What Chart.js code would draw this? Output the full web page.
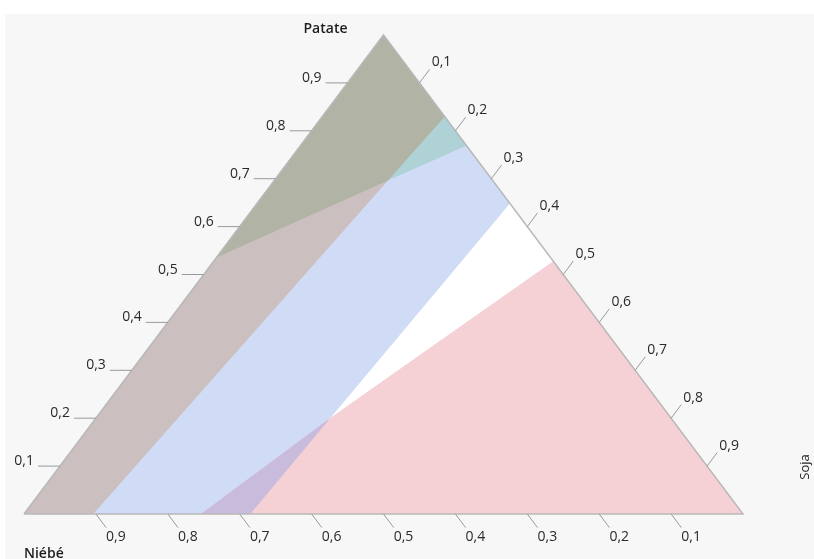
<!DOCTYPE html>
<html>
<head>
<meta charset="utf-8">
<script src="https://cdn.jsdelivr.net/npm/chart.js@4.4.1/dist/chart.umd.min.js"></script>
<style>
  html, body { margin: 0; padding: 0; background: #fff; }
  #wrap { position: relative; width: 814px; height: 559px; }
</style>
</head>
<body>
<div id="wrap"><canvas id="ternary"></canvas></div>
<script>
// ---------------------------------------------------------
// DATA  (points are [Patate, Soja], Niébé = 1 - Patate - Soja)
// ---------------------------------------------------------
const cornerNames = ['Patate', 'Niébé', 'Soja'];
const tickValues = [0.1, 0.2, 0.3, 0.4, 0.5, 0.6, 0.7, 0.8, 0.9];
const tickLabels = ['0,1', '0,2', '0,3', '0,4', '0,5', '0,6', '0,7', '0,8', '0,9'];

// whole simplex (feasible area shows white)
const zoneWhite  = [[0, 0], [0, 1], [1, 0]];
// shaded zones
const zoneRose   = [[0, 0], [0, 0.097], [0.699, 0.159], [0.829, 0.171], [1, 0]];
const zoneBlue   = [[0, 0.097], [0, 0.314], [0.196, 0.325], [0.649, 0.351], [0.829, 0.171], [0.699, 0.159]];
const zonePink   = [[0, 0.247], [0, 1], [0.527, 0.473], [0.273, 0.359], [0.196, 0.325]];
const zonePurple = [[0, 0.247], [0, 0.314], [0.196, 0.325]];
const zoneGreen  = [[0.537, 0], [0.699, 0.159], [0.829, 0.171], [1, 0]];
const zoneTeal   = [[0.699, 0.159], [0.770, 0.230], [0.829, 0.171]];

const zones = [zoneWhite, zoneRose, zoneBlue, zonePink, zonePurple, zoneGreen, zoneTeal];
const zoneColors = ['#ffffff', '#cbbfbf', '#d0dbf5', '#f5d1d6', '#c9bbdc', '#b1b4a5', '#aed2d6'];

// ternary -> plane (x along base, y = Patate height)
function toXY(p) {
    return { x: p[1] + p[0] / 2, y: p[0] };
}

const datasets = zones.map((z, i) => {
    const pts = z.map(toXY);
    pts.push(pts[0]);
    return {
        data: pts,
        fill: 'shape',
        backgroundColor: zoneColors[i],
        borderColor: zoneColors[i],
        borderWidth: 1,
        pointRadius: 0,
        tension: 0,
        order: zones.length - i
    };
});

// ---------------------------------------------------------
// AXES PLUGIN (triangle, ticks, labels)
// ---------------------------------------------------------
const ternaryAxes = {
    id: 'ternaryAxes',
    beforeDraw(chart) {
        const c = chart.ctx;
        c.save();
        c.fillStyle = '#f7f7f7';
        c.fillRect(5, 14, chart.width - 5, chart.height - 14);
        c.restore();
    },
    afterDatasetsDraw(chart) {
        const c = chart.ctx;
        const sx = chart.scales.x, sy = chart.scales.y;
        const px = (p) => {
            const q = toXY(p);
            return [sx.getPixelForValue(q.x), sy.getPixelForValue(q.y)];
        };
        const top = px([1, 0]), bl = px([0, 0]), br = px([0, 1]);

        c.save();
        // triangle edges
        c.strokeStyle = '#b9b9b9';
        c.lineWidth = 1.5;
        c.beginPath();
        c.moveTo(bl[0], bl[1]);
        c.lineTo(br[0], br[1]);
        c.lineTo(top[0], top[1]);
        c.lineTo(bl[0], bl[1]);
        c.stroke();

        // unit directions for ticks
        const len = (v) => Math.hypot(v[0], v[1]);
        const dRight = [br[0] - top[0], br[1] - top[1]];
        const dLeft = [top[0] - bl[0], top[1] - bl[1]];
        const uRight = [dRight[0] / len(dRight), dRight[1] / len(dRight)];
        const uLeft = [dLeft[0] / len(dLeft), dLeft[1] / len(dLeft)];

        c.strokeStyle = '#9a9a9a';
        c.lineWidth = 1;
        c.fillStyle = '#2a2a2a';
        c.font = '14px "Open Sans", sans-serif';

        tickValues.forEach((v, i) => {
            // Patate (left edge, horizontal ticks)
            let e = px([v, 0]);
            c.beginPath();
            c.moveTo(e[0], e[1]);
            c.lineTo(e[0] - 22, e[1]);
            c.stroke();
            c.textAlign = 'right';
            c.textBaseline = 'alphabetic';
            c.fillText(tickLabels[i], e[0] - 26, e[1] - 1);

            // Niébé (bottom edge)
            e = px([0, 1 - v]);
            let t = [e[0] + uRight[0] * 17, e[1] + uRight[1] * 17];
            c.beginPath();
            c.moveTo(e[0], e[1]);
            c.lineTo(t[0], t[1]);
            c.stroke();
            c.textAlign = 'left';
            c.textBaseline = 'top';
            c.fillText(tickLabels[i], t[0], t[1] + 2);

            // Soja (right edge)
            e = px([1 - v, v]);
            t = [e[0] + uLeft[0] * 17, e[1] + uLeft[1] * 17];
            c.beginPath();
            c.moveTo(e[0], e[1]);
            c.lineTo(t[0], t[1]);
            c.stroke();
            c.textAlign = 'left';
            c.textBaseline = 'alphabetic';
            c.fillText(tickLabels[i], t[0] + 2, t[1] - 3);
        });

        // corner names
        c.fillStyle = '#1e1e1e';
        c.font = '600 14px "Open Sans", sans-serif';
        c.textAlign = 'center';
        c.textBaseline = 'middle';
        c.fillText(cornerNames[0], top[0] - 58, 29);
        c.textAlign = 'left';
        c.fillText(cornerNames[1], bl[0], bl[1] + 40);
        c.save();
        c.translate(805, 467);
        c.rotate(-Math.PI / 2);
        c.textAlign = 'center';
        c.font = '13px "Open Sans", sans-serif';
        c.fillText(cornerNames[2], 0, 0);
        c.restore();
        c.restore();
    }
};

// ---------------------------------------------------------
// CHART
// ---------------------------------------------------------
new Chart(document.getElementById('ternary'), {
    type: 'line',
    data: { datasets: datasets },
    options: {
        responsive: true,
        maintainAspectRatio: false,
        animation: false,
        layout: { padding: { left: 24, right: 71, top: 35, bottom: 45 } },
        scales: {
            x: { type: 'linear', min: 0, max: 1, display: false },
            y: { type: 'linear', min: 0, max: 1, display: false }
        },
        plugins: {
            legend: { display: false },
            tooltip: { enabled: false }
        }
    },
    plugins: [ternaryAxes]
});
</script>
</body>
</html>
